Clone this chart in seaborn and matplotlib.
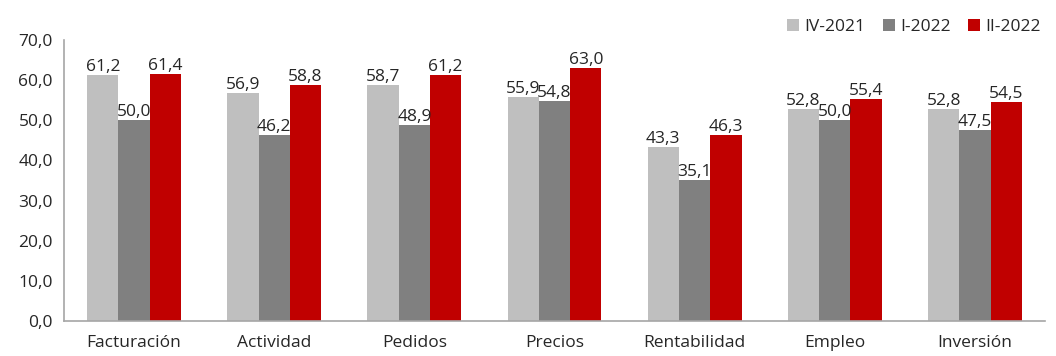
import matplotlib.pyplot as plt
import pandas as pd
import seaborn as sns

categories = ["Facturación", "Actividad", "Pedidos", "Precios", "Rentabilidad", "Empleo", "Inversión"]
series = ["IV-2021", "I-2022", "II-2022"]
iv_2021 = [61.2, 56.9, 58.7, 55.9, 43.3, 52.8, 52.8]
i_2022 = [50.0, 46.2, 48.9, 54.8, 35.1, 50.0, 47.5]
ii_2022 = [61.4, 58.8, 61.2, 63.0, 46.3, 55.4, 54.5]
colors = ["#BFBFBF", "#808080", "#C00000"]

df = pd.DataFrame({
    "categoria": categories * 3,
    "periodo": [s for s in series for _ in categories],
    "valor": iv_2021 + i_2022 + ii_2022,
})

sns.set_style("white")
plt.rcParams["font.family"] = ["Open Sans", "DejaVu Sans"]
fs = 12.5

fig = plt.figure(figsize=(10.56, 3.56), dpi=100)
ax = fig.add_axes([0.0606, 0.098, 0.929, 0.79])

sns.barplot(data=df, x="categoria", y="valor", hue="periodo", hue_order=series,
            palette=colors, width=0.67, saturation=1, linewidth=0, ax=ax)

for cont in ax.containers:
    ax.bar_label(cont, labels=[f"{v:.1f}".replace(".", ",") for v in cont.datavalues],
                 padding=0, fontsize=fs, color="#262626")

ax.set_ylim(0, 70)
ax.set_yticks(range(0, 71, 10))
ax.set_yticklabels([f"{v:.1f}".replace(".", ",") for v in range(0, 71, 10)], fontsize=fs, color="#262626")
# category labels sit low, kept just inside the bottom edge
ax.tick_params(axis="x", labelsize=fs, colors="#262626", pad=10, length=0)
ax.tick_params(axis="y", length=0, pad=8)
ax.set_xlabel("")
ax.set_ylabel("")
ax.set_xlim(-0.5, 6.5)

for s in ["top", "right"]:
    ax.spines[s].set_visible(False)
for s in ["left", "bottom"]:
    ax.spines[s].set_color("#A6A6A6")
    ax.spines[s].set_linewidth(1.2)

ax.legend(loc="upper right", bbox_to_anchor=(1.012, 1.13), ncol=3, frameon=False,
          fontsize=fs, handlelength=0.7, handleheight=0.7, handletextpad=0.3,
          columnspacing=1.0, labelcolor="#262626")

fig.savefig("out.png", dpi=100)
